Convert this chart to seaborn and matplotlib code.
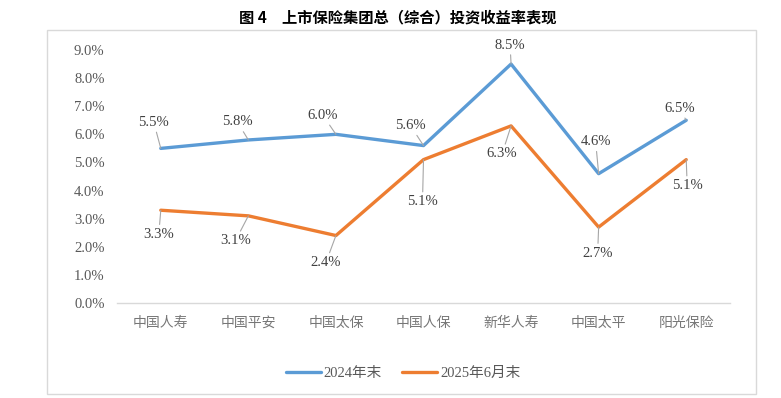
import numpy as np
import pandas as pd
import matplotlib
matplotlib.use("Agg")
import matplotlib.pyplot as plt
import seaborn as sns
from matplotlib.patches import Rectangle

companies = ["中国人寿", "中国平安", "中国太保", "中国人保", "新华人寿", "中国太平", "阳光保险"]
rate_2024 = [5.5, 5.8, 6.0, 5.6, 8.5, 4.6, 6.5]
rate_2025h1 = [3.3, 3.1, 2.4, 5.1, 6.3, 2.7, 5.1]
series_names = ["2024年末", "2025年6月末"]
yticks = [0, 1, 2, 3, 4, 5, 6, 7, 8, 9]

# label offsets (pixels) from each point, as placed in the original
offsets_2024 = [(-7, 26), (-11, 18), (-13, 19), (-13, 20), (-1, 19), (-3, 32), (-7, 12)]
offsets_2025 = [(-2, -24), (-13, -25), (-10, -27), (-1, -42), (-9, -28), (-1, -26), (1, -26)]

colors = ["#5B9BD5", "#ED7D31"]
gray = "#595959"
serif_cjk = ["Liberation Serif", "Noto Sans CJK SC"]

sns.set_theme(style="white")
plt.rcParams["font.family"] = serif_cjk

df = pd.DataFrame({
    "company": companies * 2,
    "rate": rate_2024 + rate_2025h1,
    "period": [series_names[0]] * len(companies) + [series_names[1]] * len(companies),
})

fig = plt.figure(figsize=(7.81, 3.98), dpi=100)
ax = fig.add_axes([117 / 781, 1 - 303 / 398, (730 - 117) / 781, (303 - 50) / 398])

# outer chart frame
fig.patches.append(Rectangle((47 / 781, 1 - 394 / 398), (756 - 47) / 781, (394 - 30) / 398,
                             transform=fig.transFigure, fill=False, edgecolor="#d9d9d9",
                             linewidth=1.0, zorder=0))

sns.lineplot(data=df, x="company", y="rate", hue="period", palette=colors,
             sort=False, linewidth=2.4, ax=ax, legend=True)

ax.set_xlim(-0.5, len(companies) - 0.5)
ax.set_ylim(0, 9)
ax.set_yticks(yticks)
ax.set_yticklabels([f"{v:.1f}%" for v in yticks])
ax.set_xlabel("")
ax.set_ylabel("")
for s in ["top", "right", "left"]:
    ax.spines[s].set_visible(False)
ax.spines["bottom"].set_color("#d9d9d9")
ax.spines["bottom"].set_linewidth(1.0)
ax.tick_params(axis="both", length=0, colors=gray, labelsize=10.5)
ax.tick_params(axis="y", pad=9)
ax.tick_params(axis="x", pad=9, colors="#767676")
for lab in ax.get_xticklabels():
    lab.set_fontfamily("Noto Sans CJK SC")
    lab.set_fontsize(10)
    lab.set_fontweight("light")
ax.patch.set_alpha(0)

for vals, offs in [(rate_2024, offsets_2024), (rate_2025h1, offsets_2025)]:
    for i, (v, off) in enumerate(zip(vals, offs)):
        ax.annotate(f"{v:.1f}%", xy=(i, v), xytext=off, textcoords="offset pixels",
                    ha="center", va="center", fontsize=10.5, color="#404040",
                    family="Liberation Serif",
                    arrowprops=dict(arrowstyle="-", color="#a6a6a6", lw=0.8,
                                    shrinkA=0, shrinkB=0))

handles, labels = ax.get_legend_handles_labels()
ax.get_legend().remove()
fig.legend(handles, labels, loc="center", bbox_to_anchor=(403 / 781, 1 - 373 / 398),
           ncol=2, frameon=False, fontsize=10.5, handlelength=2.4, handletextpad=0.2,
           columnspacing=1.4, labelcolor=gray)

fig.text(398 / 781, 1 - 17 / 398, "图 4　上市保险集团总（综合）投资收益率表现",
         ha="center", va="center", fontsize=11, fontweight="bold",
         family=["Noto Sans CJK SC", "DejaVu Sans"], color="black")

fig.savefig("out.png", dpi=100)
